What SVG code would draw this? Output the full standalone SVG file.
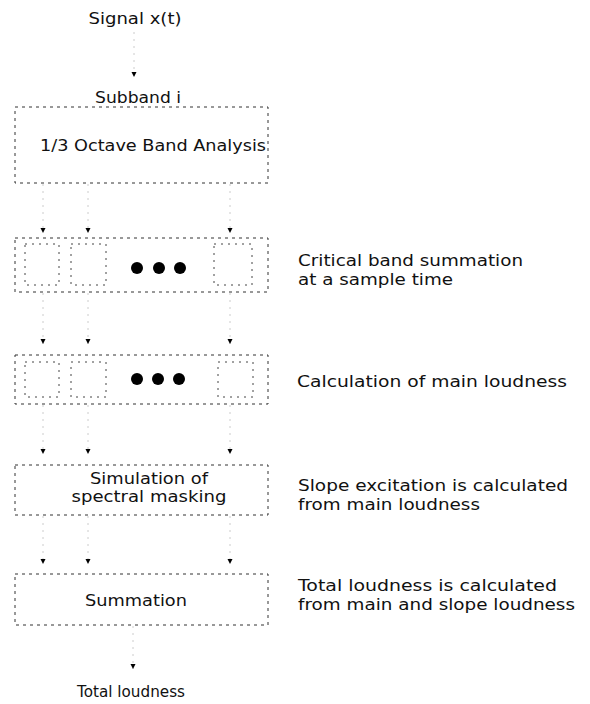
<svg xmlns="http://www.w3.org/2000/svg" width="590" height="704" viewBox="0 0 590 704">
<defs>
<style>
text{font-family:"DejaVu Sans","Liberation Sans",sans-serif;font-size:15.5px;fill:#111;}
.c{text-anchor:middle;}
.sm{font-size:15px;}
.box{fill:none;stroke:#333;stroke-width:1;stroke-dasharray:3 4;}
.ibox{fill:none;stroke:#444;stroke-width:1;stroke-dasharray:2 5;}
.con{fill:none;stroke:#ccc;stroke-width:1;stroke-dasharray:2 5;marker-end:url(#ah);}
.dot{fill:#000;}
</style>
<marker id="ah" markerUnits="userSpaceOnUse" markerWidth="6" markerHeight="6" refX="5" refY="2.5" orient="auto">
<path d="M0,0 L5,2.5 L0,5 z" fill="#000"/>
</marker>
</defs>
<g id="connectors">
<path class="con" d="M134,32 V77"/>
<path class="con" d="M43,184 V233"/>
<path class="con" d="M88,184 V233"/>
<path class="con" d="M230,184 V233"/>
<path class="con" d="M43,293 V344"/>
<path class="con" d="M88,293 V344"/>
<path class="con" d="M230,293 V344"/>
<path class="con" d="M43,405 V454"/>
<path class="con" d="M88,405 V454"/>
<path class="con" d="M230,405 V454"/>
<path class="con" d="M43,516 V564"/>
<path class="con" d="M88,516 V564"/>
<path class="con" d="M230,516 V564"/>
<path class="con" d="M133,626 V669"/>
</g>
<g id="input">
<text class="c" x="135" y="24" textLength="93" lengthAdjust="spacingAndGlyphs">Signal x(t)</text>
</g>
<g id="octave-band-analysis">
<rect class="box" x="15" y="107" width="253" height="76"/>
<text class="c" x="138" y="103" textLength="86" lengthAdjust="spacingAndGlyphs">Subband i</text>
<text class="c" x="153" y="151" textLength="226" lengthAdjust="spacingAndGlyphs">1/3 Octave Band Analysis</text>
</g>
<g id="critical-band-summation">
<rect class="box" x="15" y="238" width="253" height="54"/>
<rect class="ibox" x="25" y="244" width="34" height="41"/>
<rect class="ibox" x="71" y="244" width="35" height="41"/>
<rect class="ibox" x="214" y="244" width="38" height="41"/>
<circle class="dot" cx="137" cy="268" r="6"/>
<circle class="dot" cx="159" cy="268" r="6"/>
<circle class="dot" cx="180" cy="268" r="6"/>
</g>
<g id="main-loudness">
<rect class="box" x="15" y="355" width="253" height="49"/>
<rect class="ibox" x="25" y="362" width="34" height="35"/>
<rect class="ibox" x="71" y="362" width="35" height="35"/>
<rect class="ibox" x="218" y="362" width="35" height="35"/>
<circle class="dot" cx="137" cy="379" r="6"/>
<circle class="dot" cx="158" cy="379" r="6"/>
<circle class="dot" cx="179" cy="379" r="6"/>
</g>
<g id="spectral-masking">
<rect class="box" x="15" y="465" width="253" height="50"/>
<text class="c sm" x="149" y="484" textLength="118" lengthAdjust="spacingAndGlyphs">Simulation of</text>
<text class="c sm" x="149" y="502" textLength="155" lengthAdjust="spacingAndGlyphs">spectral masking</text>
</g>
<g id="summation">
<rect class="box" x="15" y="574" width="253" height="51"/>
<text class="c" x="136" y="606" textLength="102" lengthAdjust="spacingAndGlyphs">Summation</text>
</g>
<g id="output">
<text class="c" x="131" y="697" textLength="108" lengthAdjust="spacingAndGlyphs">Total loudness</text>
</g>
<g id="annotations">
<text x="298" y="266" textLength="225" lengthAdjust="spacingAndGlyphs">Critical band summation</text>
<text x="298" y="285" textLength="155" lengthAdjust="spacingAndGlyphs">at a sample time</text>
<text x="297" y="387" textLength="270" lengthAdjust="spacingAndGlyphs">Calculation of main loudness</text>
<text x="298" y="491" textLength="270" lengthAdjust="spacingAndGlyphs">Slope excitation is calculated</text>
<text x="298" y="510" textLength="182" lengthAdjust="spacingAndGlyphs">from main loudness</text>
<text x="298" y="591" textLength="259" lengthAdjust="spacingAndGlyphs">Total loudness is calculated</text>
<text x="298" y="610" textLength="277" lengthAdjust="spacingAndGlyphs">from main and slope loudness</text>
</g>
</svg>
